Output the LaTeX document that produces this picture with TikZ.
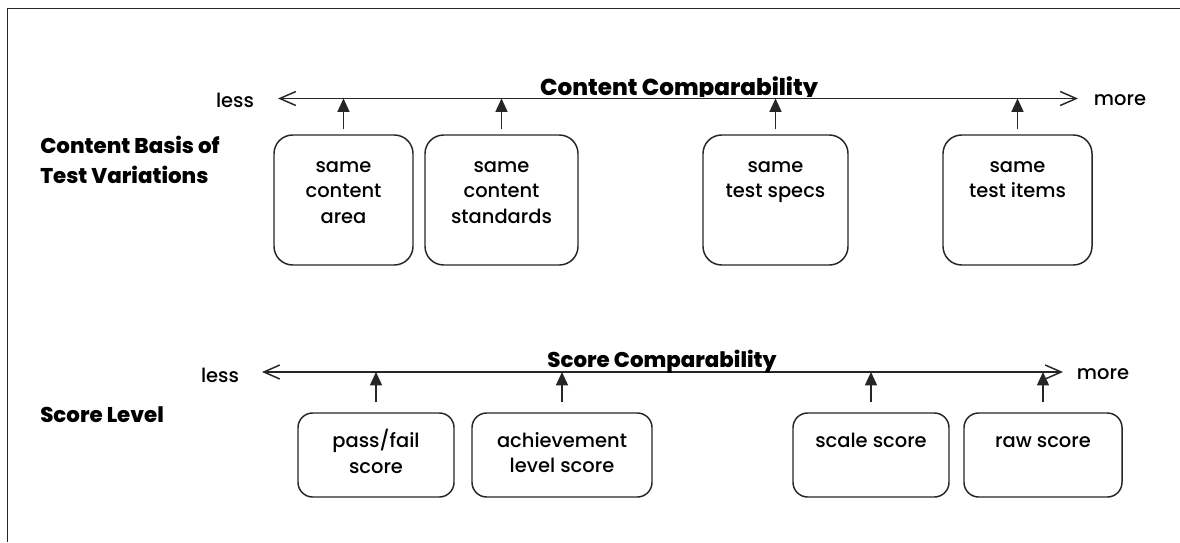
\documentclass[tikz,border=0pt]{standalone}
\usepackage{fontspec}
\setmainfont{Poppins}[UprightFont={Poppins Medium}, BoldFont={Poppins ExtraBold}]
\usetikzlibrary{arrows.meta}
\tikzset{
  ln/.style={draw=black!85, line width=1.1pt},
  topbox/.style={ln, rounded corners=14pt, minimum height=97.5pt, inner sep=0pt},
  botbox/.style={ln, rounded corners=11pt, minimum height=63pt, inner sep=0pt},
  boxtext/.style={font=\fontsize{14.6}{19.1}\selectfont, align=center, anchor=north, inner sep=0pt},
  endtext/.style={font=\fontsize{14.6}{19.1}\selectfont, anchor=base, inner sep=0pt},
  heading/.style={font=\bfseries\fontsize{16}{22.5}\selectfont, align=left, inner sep=0pt},
  axtitle/.style={font=\bfseries\fontsize{16}{20}\selectfont, anchor=base, inner sep=0pt},
  axis/.style={ln, {Straight Barb[length=12pt,width=10.5pt]}-{Straight Barb[length=12pt,width=10.5pt]}},
  up/.style={ln, -{Triangle[length=10pt,width=9pt]}, shorten <=3.75pt}
}
\begin{document}
\begin{tikzpicture}[x=0.75pt,y=-0.75pt]
\useasboundingbox (0,0) rectangle (1180,542);
% frame
\draw[ln] (7.5,542) -- (7.5,8.5) -- (1180,8.5);

% ---------- content comparability ----------
\node[heading, anchor=north west] (h1) at (40,132) {\strut Content Basis of\\Test Variations};
\coordinate (tl) at (278,98.5);
\coordinate (tr) at (1078,98.5);
\draw[axis] (tl) -- (tr);
\node[endtext] (less1) at (235,107) {less};
\node[endtext] (more1) at (1120,105) {more};
\begin{scope}
\clip (0,0) rectangle (1180,96.5);
\node[axtitle, font=\bfseries\fontsize{17.3}{20}\selectfont] (t1) at (679,95) {Content Comparability};
\end{scope}

\node[topbox, minimum width=104.25pt] (b1) at (343.5,200) {};
\node[topbox, minimum width=114.75pt] (b2) at (501.5,200) {};
\node[topbox, minimum width=108.75pt] (b3) at (775.5,200) {};
\node[topbox, minimum width=111.75pt] (b4) at (1017.5,200) {};
\node[boxtext] (l1) at (343.5,154.2) {\strut same\\content\\area};
\node[boxtext] (l2) at (501.5,154.2) {\strut same\\content\\standards};
\node[boxtext] (l3) at (775.5,154.2) {\strut same\\test specs};
\node[boxtext] (l4) at (1017.5,154.2) {\strut same\\test items};
\foreach \b in {b1,b2,b3,b4} \draw[up] (\b.north) -- (\b.north |- tl);

% ---------- score comparability ----------
\node[heading, anchor=base west] (h2) at (40,422) {Score Level};
\coordinate (sl) at (262,372);
\coordinate (sr) at (1063,372);
\draw[axis] (sl) -- (sr);
\node[endtext] (less2) at (220,382) {less};
\node[endtext] (more2) at (1103,379) {more};
\node[axtitle] (t2) at (662,367) {Score Comparability};

\node[botbox, minimum width=117pt] (c1) at (376,455) {};
\node[botbox, minimum width=135pt] (c2) at (562,455) {};
\node[botbox, minimum width=117pt] (c3) at (871,455) {};
\node[botbox, minimum width=118.5pt] (c4) at (1043,455) {};
\node[boxtext] (m1) at (376,429.2) {\strut pass/fail\\score};
\node[boxtext] (m2) at (562,429.2) {\strut achievement\\level score};
\node[boxtext] (m3) at (871,429.2) {\strut scale score};
\node[boxtext] (m4) at (1043,429.2) {\strut raw score};
\foreach \b in {c1,c2,c3,c4} \draw[up, shorten <=7.5pt] (\b.north) -- (\b.north |- sl);
\end{tikzpicture}
\end{document}
